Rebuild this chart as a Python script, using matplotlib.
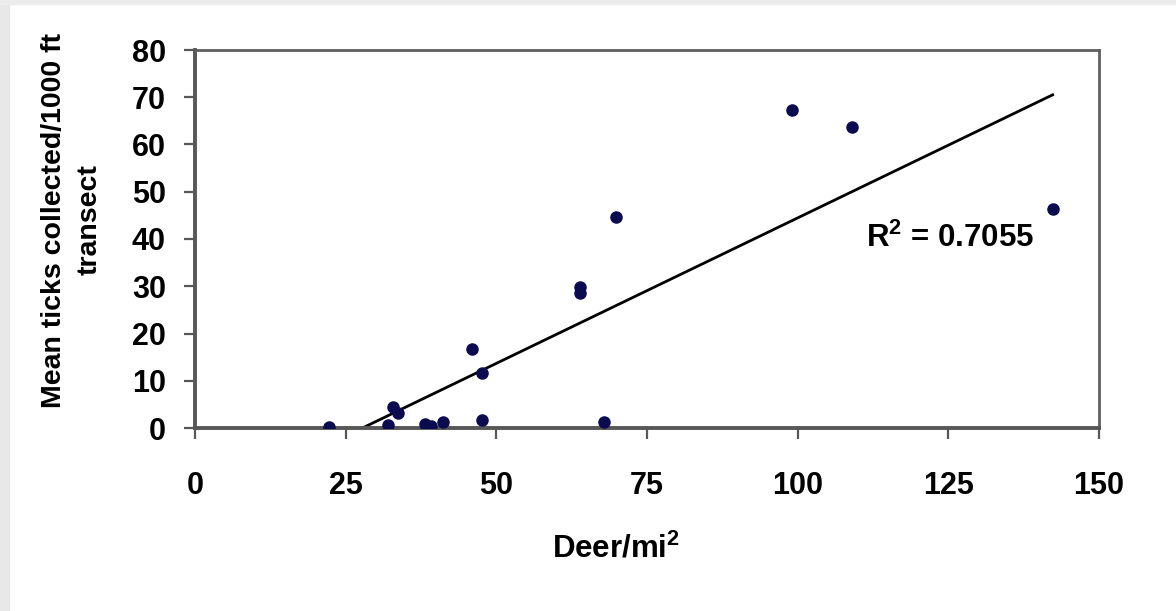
import numpy as np
import matplotlib
matplotlib.use("Agg")
import matplotlib.pyplot as plt
from matplotlib.patches import Rectangle

# deer density vs. ticks per transect
deer = [22.2, 32.1, 32.8, 33.7, 38.2, 39.2, 41.1, 45.9, 47.7, 47.7,
        63.9, 63.9, 67.9, 69.9, 99.1, 109.0, 142.3]
ticks = [0.3, 0.6, 4.5, 3.1, 0.8, 0.4, 1.2, 16.7, 11.7, 1.7,
         29.8, 28.5, 1.3, 44.7, 67.4, 63.8, 46.3]
x_ticks = [0, 25, 50, 75, 100, 125, 150]
y_ticks = [0, 10, 20, 30, 40, 50, 60, 70, 80]
r2_label = "R$^{\\mathrm{2}}$ = 0.7055"

plt.rcParams['font.family'] = ['Liberation Sans', 'DejaVu Sans']
plt.rcParams['font.weight'] = 'bold'
plt.rcParams['mathtext.fontset'] = 'custom'
plt.rcParams['mathtext.rm'] = 'Liberation Sans:bold'

fig = plt.figure(figsize=(11.76, 6.11), dpi=100)
fig.patch.set_facecolor('white')
# light grey frame strips at the left / top edge
fig.patches.append(Rectangle((0, 0), 9 / 1176, 1, transform=fig.transFigure,
                             color='#e8e8e8', zorder=0))
fig.patches.append(Rectangle((0, 1 - 4 / 611), 1, 4 / 611, transform=fig.transFigure,
                             color='#ececec', zorder=0))

ax = fig.add_axes([195 / 1176, 1 - 428 / 611, 904 / 1176, 378 / 611])

ax.plot(deer, ticks, 'o', color='#0b0b4f', markersize=8, zorder=3)

# linear trendline
slope, icpt = np.polyfit(deer, ticks, 1)
xl = np.array([min(deer), max(deer)])
ax.plot(xl, slope * xl + icpt, '-', color='black', linewidth=2)

ax.set_xlim(0, 150)
ax.set_ylim(0, 80)
ax.set_xticks(x_ticks)
ax.set_yticks(y_ticks)

for s in ['left', 'bottom']:
    ax.spines[s].set_color('#575757')
    ax.spines[s].set_linewidth(2.8)
for s in ['top', 'right']:
    ax.spines[s].set_color('#5f5f5f')
    ax.spines[s].set_linewidth(2.0)

ax.tick_params(axis='both', direction='out', length=8, width=1.6, color='#575757',
               labelsize=22)
ax.tick_params(axis='x', pad=23)
ax.tick_params(axis='y', pad=13)
for lab in ax.get_xticklabels() + ax.get_yticklabels():
    lab.set_fontweight('bold')

ax.text(111.4, 38.3, r2_label, fontsize=22.5, fontweight='bold', va='baseline', ha='left')

fig.text(72 / 1176, 1 - 220 / 611, "Mean ticks collected/1000 ft\ntransect",
         rotation=90, ha='center', va='center', fontsize=20.5, fontweight='bold',
         linespacing=1.5, multialignment='center')
fig.text(616 / 1176, 1 - 557 / 611, "Deer/mi$^{\\mathrm{2}}$", ha='center', va='baseline',
         fontsize=22.5, fontweight='bold')

fig.savefig("out.png", dpi=100)
